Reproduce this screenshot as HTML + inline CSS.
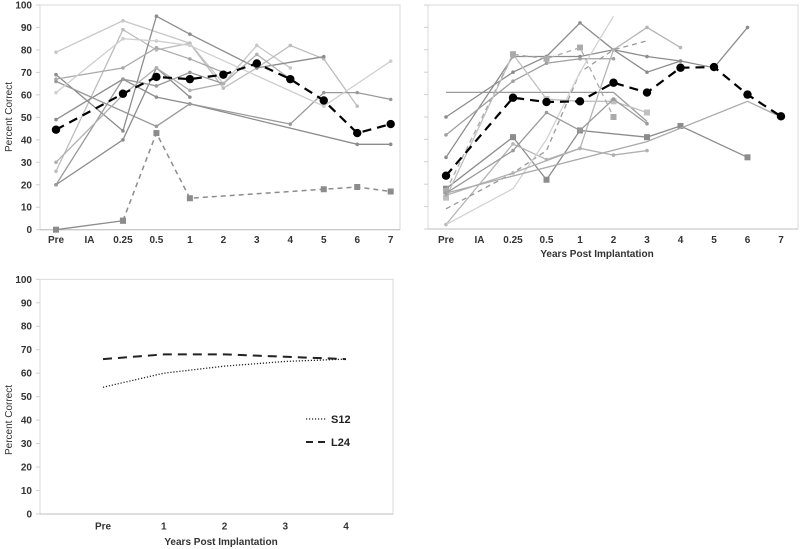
<!DOCTYPE html>
<html><head><meta charset="utf-8"><style>
html,body{margin:0;padding:0;background:#fff;}
svg{display:block;font-family:"Liberation Sans",Arial,sans-serif;}
</style></head><body>
<svg id="fig" width="800" height="549" viewBox="0 0 800 549"></svg>
<script>
// ---- data ----
const cats = ["Pre","IA","0.25","0.5","1","2","3","4","5","6","7"];
const yTicks = [0,10,20,30,40,50,60,70,80,90,100];
const tlMean = [44.5,null,60.5,68,67,69,74,67,57.5,43,47];
const tlLow = [0,null,4,43,14,null,null,null,18,19,17];
const tlA = [79,null,93,null,83,65,82,72,null,null,null];
const tlB = [26,null,89,80,83,63,72,82,76,55,null];
const tlC = [69,null,44,95,87,null,72,null,77,null,null];
const tlD = [67,null,72,81,76,70,null,null,null,null,null];
const tlE = [49,null,67,59,56,null,null,null,null,38,38];
const tlF = [66,null,null,46,56,null,null,47,61,61,58];
const tlG = [20,null,40,72,59,null,null,null,null,null,null];
const tlH = [20,null,67,64,70,65,null,null,null,null,null];
const tlI = [30,null,60,72,62,65,78,67,null,null,null];
const tlJ = [61,null,85,84,82,null,null,null,55,null,75];
const trMean = [23.8,null,58.6,56.7,57,65.3,60.9,72,72.3,60,50.3];
const trA = [61,null,null,null,null,61,48,null,null,null,null];
const trB = [50,null,70,77,77,80,77,75,72,90,null];
const trC = [32,null,77,77,92,80,70,75,null,null,null];
const trD = [42,null,66,74,76,76,null,null,null,null,null];
const trE = [18,null,41,22,44,null,41,46,null,32,null];
const trF = [2,null,38,31,36,80,90,81,null,null,null];
const trG = [14,null,78,58,57,57,52,null,null,null,null];
const trH = [9,null,25,35,70,80,84,null,null,null,null];
const trI = [17,null,78,76,81,50,null,null,null,null,null];
const trJ = [2,null,18,40,70,95,null,null,null,null,null];
const trK = [15,null,25,null,36,33,35,null,null,null,null];
const trL = [16,null,35,52,44,58,47,null,null,null,null];
const trM = [16,null,null,null,null,null,39,45,null,57,50];
const botCats = ["Pre","1","2","3","4"];
const s12 = [54,60,63,65,66];
const l24 = [66,68,68,67,66];

const NS="http://www.w3.org/2000/svg";
const svg=document.getElementById('fig');
function mk(tag,attrs,parent){const e=document.createElementNS(NS,tag);for(const k in attrs)e.setAttribute(k,attrs[k]);(parent||svg).appendChild(e);return e;}
function txt(s,attrs){const t=mk('text',attrs);t.textContent=s;return t;}

function panel(name,x0,x1,yTop,yBot,catX0,step,showYLabels,showTitle,titleX,titleY,yTitleY){
  const g=mk('g',{});
  
  
  const r=mk('rect',{x:x0,y:yTop,width:x1-x0,height:yBot-yTop,fill:'none',stroke:'#d9d9d9','stroke-width':1},g);
  
  
  const ax=mk('line',{x1:x0,y1:yBot,x2:x1,y2:yBot,stroke:'#bfbfbf','stroke-width':1},g);
  
  
  const Y=v=>yBot-(v/100)*(yBot-yTop);
  yTicks.forEach(v=>{
    const tk=mk('line',{x1:x0-4,y1:Y(v),x2:x0,y2:Y(v),stroke:'#d0d0d0'},g);
    
    
    if(showYLabels){
      const t=txt(v,{x:x0-8,y:Y(v)+3.5,'text-anchor':'end','font-size':10,'font-weight':'bold',fill:'#333'});
      
      
    }
  });
  if(showYLabels){
    const t=txt('Percent Correct',{x:0,y:0,'font-size':10,fill:'#333',transform:`translate(12,${yTitleY}) rotate(-90)`,'text-anchor':'middle'});
    
    
  }
  if(showTitle){
    const t=txt('Years Post Implantation',{x:titleX,y:titleY,'font-size':10,'font-weight':'bold',fill:'#333','text-anchor':'middle'});
    
    
  }
  return {g,Y,X:i=>catX0+i*step};
}

function series(P,vals,color,width,dash,marker,name){
  let d='';
  vals.forEach((v,i)=>{ if(v===null) return; d+=(d?'L':'M')+P.X(i)+','+P.Y(v); });
  const p=mk('path',{d:d,fill:'none',stroke:color,'stroke-width':width,'stroke-dasharray':dash||'none'},P.g);
  
  
  vals.forEach((v,i)=>{
    if(v===null||!marker) return;
    let m;
    if(marker==='circle') m=mk('circle',{cx:P.X(i),cy:P.Y(v),r:4.2,fill:color},P.g);
    else if(marker==='square') m=mk('rect',{x:P.X(i)-3,y:P.Y(v)-3,width:6,height:6,fill:color},P.g);
    else m=mk('circle',{cx:P.X(i),cy:P.Y(v),r:1.8,fill:color},P.g);
    
    
  });
}
function catLabels(P,labels,y){
  labels.forEach((c,i)=>{
    const t=txt(c,{x:P.X(i),y:y,'text-anchor':'middle','font-size':10,'font-weight':'bold',fill:'#333'});
    
    
  });
}

// top-left
const TL=panel('top-left-chart',40,400,5,229.7,56,33.47,true,false,0,0,117);
catLabels(TL,cats,243);
[[tlA,'#c8c8c8'],[tlB,'#bdbdbd'],[tlC,'#8c8c8c'],[tlD,'#aaaaaa'],[tlE,'#8c8c8c'],[tlF,'#999999'],[tlG,'#8c8c8c'],[tlH,'#9a9a9a'],[tlI,'#b0b0b0'],[tlJ,'#cfcfcf']]
 .forEach((s,k)=>series(TL,s[0],s[1],1.3,null,'dot','tl-subject-'+(k+1)));
series(TL,tlLow.slice(0,3),'#8c8c8c',1.3,null,'square','tl-low-subject-a');
series(TL,[null,null,tlLow[2],tlLow[3],tlLow[4],null,null,null,tlLow[8],tlLow[9],tlLow[10]],'#8c8c8c',1.5,'5,4','square','tl-low-subject-b');
series(TL,tlMean,'#000',2.2,'9,6','circle','tl-mean-line');

// top-right
const TR=panel('top-right-chart',428,798,5,229,446,33.5,false,true,597,257,117);
catLabels(TR,cats,243);
[[trA,'#9a9a9a',null,null],[trB,'#8c8c8c',null,'dot'],[trC,'#8c8c8c',null,'dot'],[trD,'#a0a0a0',null,'dot'],[trE,'#8c8c8c',null,'square'],[trF,'#b5b5b5',null,'dot'],[trG,'#c0c0c0',null,'square'],[trH,'#9a9a9a','5,4',null],[trI,'#ababab','5,4','square'],[trJ,'#d2d2d2',null,null],[trK,'#b0b0b0',null,'dot'],[trL,'#9a9a9a',null,'dot'],[trM,'#aaaaaa',null,null]]
 .forEach((s,k)=>series(TR,s[0],s[1],1.3,s[2],s[3],'tr-subject-'+(k+1)));
series(TR,trMean,'#000',2.2,'9,6','circle','tr-mean-line');

// bottom
const BT=panel('bottom-chart',40,393,279.3,514,103,60.75,true,true,221,545,420);
catLabels(BT,botCats,529.5);
series(BT,s12,'#222',1.3,'1.2,1.8',null,'s12-line');
series(BT,l24,'#222',2,'9,6',null,'l24-line');
const lg=mk('g',{});


const l1=mk('line',{x1:306,y1:419,x2:326,y2:419,stroke:'#222','stroke-width':1.3,'stroke-dasharray':'1.2,1.8'},lg);


const t1=txt('S12',{x:331,y:423,'font-size':11,'font-weight':'bold',fill:'#222'});


const l2=mk('line',{x1:306,y1:442,x2:326,y2:442,stroke:'#222','stroke-width':2,'stroke-dasharray':'7,5'},lg);


const t2=txt('L24',{x:331,y:446,'font-size':11,'font-weight':'bold',fill:'#222'});


</script>
</body></html>
